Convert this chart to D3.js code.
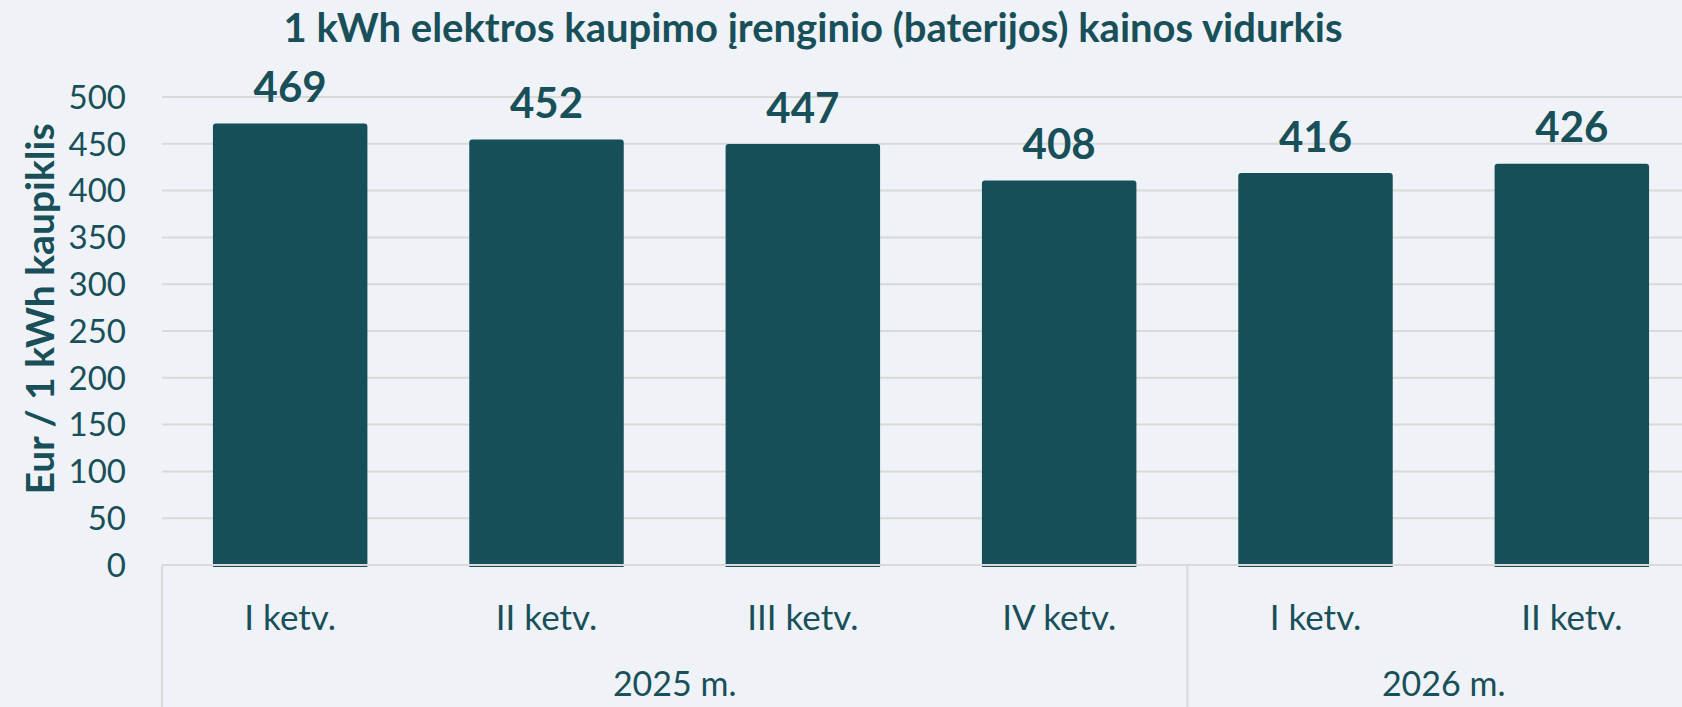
<!DOCTYPE html>
<html>
<head>
<meta charset="utf-8">
<script src="https://cdn.jsdelivr.net/npm/d3@7"></script>
<style>
  html, body { margin: 0; padding: 0; background: #eff3f7; }
  svg { display: block; }
  text { font-family: Lato, "Open Sans", sans-serif; }
</style>
</head>
<body>
<svg id="chart" width="1682" height="707"></svg>
<script>
const quarters = ["I ketv.", "II ketv.", "III ketv.", "IV ketv.", "I ketv.", "II ketv."];
const years = ["2025 m.", "2025 m.", "2025 m.", "2025 m.", "2026 m.", "2026 m."];
const values = [469, 452, 447, 408, 416, 426];
const yTicks = [0, 50, 100, 150, 200, 250, 300, 350, 400, 450, 500];
const title = "1 kWh elektros kaupimo įrenginio (baterijos) kainos vidurkis";
const yLabel = "Eur / 1 kWh kaupiklis";

const W = 1682, H = 707;
const margin = { left: 162, top: 97, bottom: 565, right: 1700 };
const ink = "#184f59";
const barColor = "#174f58";
const grid = "#d9d9d9";

const svg = d3.select("#chart");
svg.append("rect").attr("width", W).attr("height", H).attr("fill", "#eff3f7");

const idx = d3.range(values.length);
const x = d3.scaleBand().domain(idx).range([margin.left, margin.right]).paddingInner(0.3974).paddingOuter(0.1987);
const y = d3.scaleLinear().domain([0, 500]).range([margin.bottom, margin.top]);

// gridlines
svg.append("g").selectAll("line").data(yTicks).join("line")
  .attr("x1", margin.left).attr("x2", W)
  .attr("y1", d => y(d)).attr("y2", d => y(d))
  .attr("stroke", grid).attr("stroke-width", 2);

// y tick labels
svg.append("g").selectAll("text").data(yTicks).join("text")
  .attr("x", 126).attr("y", d => y(d)).attr("dy", "0.36em")
  .attr("text-anchor", "end").attr("fill", ink)
  .attr("font-size", 33).text(d => d);

// bars with rounded top corners
const r = 3, lift = 2.5;
svg.append("g").selectAll("path").data(idx).join("path")
  .attr("d", i => {
    const x0 = x(i), x1 = x(i) + x.bandwidth();
    const yt = y(values[i]) - lift, yb = y(0) + 2;
    return `M${x0},${yb}V${yt + r}Q${x0},${yt} ${x0 + r},${yt}H${x1 - r}Q${x1},${yt} ${x1},${yt + r}V${yb}Z`;
  })
  .attr("fill", barColor);

// zero line over bars
svg.append("line").attr("x1", margin.left).attr("x2", W)
  .attr("y1", y(0)).attr("y2", y(0)).attr("stroke", grid).attr("stroke-width", 2);

// value labels
svg.append("g").selectAll("text").data(idx).join("text")
  .attr("x", i => x(i) + x.bandwidth() / 2)
  .attr("y", i => y(values[i]) - 24)
  .attr("text-anchor", "middle").attr("fill", ink)
  .attr("font-size", 42).attr("font-weight", "bold")
  .text(i => values[i]);

// category labels
svg.append("g").selectAll("text").data(idx).join("text")
  .attr("x", i => x(i) + x.bandwidth() / 2)
  .attr("y", 617).attr("dy", "0.36em")
  .attr("text-anchor", "middle").attr("fill", ink)
  .attr("font-size", 35).text(i => quarters[i]);

// year groups
const groups = d3.groups(idx, i => years[i]);
const step = x.step();
groups.forEach(([yr, members]) => {
  const first = members[0], last = members[members.length - 1];
  const gx0 = margin.left + first * step;
  const gx1 = margin.left + (last + 1) * step;
  svg.append("line").attr("x1", gx0).attr("x2", gx0).attr("y1", y(0)).attr("y2", H)
    .attr("stroke", grid).attr("stroke-width", 2);
  svg.append("text").attr("x", (gx0 + gx1) / 2).attr("y", 684).attr("dy", "0.36em")
    .attr("text-anchor", "middle").attr("fill", ink).attr("font-size", 34).text(yr);
});

// title
svg.append("text").attr("x", 813).attr("y", 42)
  .attr("text-anchor", "middle").attr("fill", ink)
  .attr("font-size", 40).attr("font-weight", "bold").text(title);

// y axis label
svg.append("text").attr("transform", `translate(54,309) rotate(-90)`)
  .attr("text-anchor", "middle").attr("fill", ink)
  .attr("font-size", 39).attr("font-weight", "bold").text(yLabel);
</script>
</body>
</html>
